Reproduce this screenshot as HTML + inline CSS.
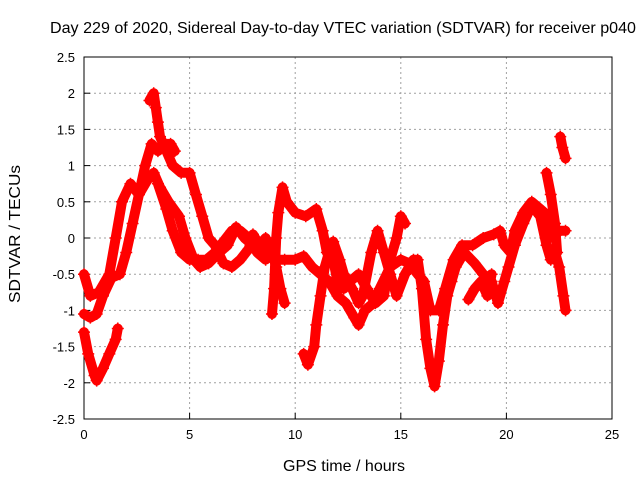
<!DOCTYPE html>
<html><head><meta charset="utf-8"><style>
body{margin:0;background:#fff;}
svg{display:block;font-family:"Liberation Sans",sans-serif;}
</style></head><body>
<svg id="chart" width="640" height="480">
<text x="343" y="33" font-size="16" text-anchor="middle" textLength="586" lengthAdjust="spacingAndGlyphs">Day 229 of 2020, Sidereal Day-to-day VTEC variation (SDTVAR) for receiver p040</text>
<text x="344" y="471" font-size="16" text-anchor="middle" textLength="122" lengthAdjust="spacingAndGlyphs">GPS time / hours</text>
<text transform="translate(20,234) rotate(-90)" font-size="16" text-anchor="middle" textLength="138" lengthAdjust="spacingAndGlyphs">SDTVAR / TECUs</text>
<g id="grid"></g><g id="axes"></g><g id="marks"></g>
</svg>
<script>
const xTicks=[0,5,10,15,20,25];
const yTicks=[-2.5,-2,-1.5,-1,-0.5,0,0.5,1,1.5,2,2.5];
const trackA=[[0,-1.3],[0.2,-1.6],[0.5,-1.9],[0.6,-1.97],[0.9,-1.8],[1.2,-1.6],[1.5,-1.4],[1.6,-1.25]];
const trackB=[[0,-1.05],[0.3,-1.1],[0.6,-1.05],[0.9,-0.8],[1.3,-0.55],[1.7,-0.5],[2.0,-0.2],[2.3,0.2],[2.6,0.6],[2.9,1.0],[3.2,1.3],[3.5,1.2],[3.8,1.3],[4.1,1.3],[4.3,1.2]];
const trackC=[[0,-0.5],[0.3,-0.8],[0.7,-0.75],[1.2,-0.5],[1.5,0.0],[1.8,0.5],[2.2,0.75],[2.6,0.6],[3.0,0.8],[3.3,0.9],[3.6,0.7],[4.0,0.5],[4.5,0.3],[4.8,0.0],[5.2,-0.3],[5.5,-0.4],[5.9,-0.35],[6.4,-0.2],[6.8,-0.1],[7.2,0.15],[7.6,0.0],[8.0,-0.1],[8.5,-0.2],[9.0,-0.3],[9.5,-0.3],[10.0,-0.3],[10.4,-0.25],[10.8,-0.4],[11.2,-0.5],[11.6,-0.6],[12.0,-0.8],[12.4,-0.9],[12.8,-1.1],[13.0,-1.2],[13.3,-1.0],[13.7,-0.9],[14.0,-0.7],[14.5,-0.4],[15.0,-0.3],[15.4,-0.35],[15.8,-0.5],[16.1,-0.6],[16.4,-1.0],[16.8,-1.0],[17.1,-0.7],[17.5,-0.3],[17.9,-0.1],[18.4,-0.1],[18.9,0.0],[19.4,0.05],[19.7,0.1],[19.9,-0.1],[20.2,-0.2],[20.4,0.1],[20.8,0.35],[21.2,0.5],[21.6,0.4],[22.0,0.3],[22.2,0.0],[22.5,0.1],[22.8,0.1]];
const trackD=[[3.1,1.9],[3.3,2.0],[3.4,1.8],[3.5,1.6],[3.6,1.4],[3.9,1.2],[4.2,1.0],[4.6,0.9],[5.0,0.9],[5.3,0.6],[5.6,0.3],[5.9,0.0],[6.2,-0.1],[6.6,-0.35],[7.0,-0.4],[7.4,-0.3],[7.8,-0.15],[8.0,0.05],[8.3,-0.1],[8.6,0.0],[8.9,-0.2],[9.1,-0.4],[9.3,-0.7],[9.5,-0.9]];
const trackE=[[3.5,0.75],[3.9,0.4],[4.2,0.1],[4.6,-0.2],[5.0,-0.3],[5.4,-0.3],[5.8,-0.3],[6.2,-0.2],[6.6,-0.05],[7.0,0.1],[7.4,0.1],[7.8,0.0],[8.2,-0.2],[8.6,-0.3]];
const trackF=[[8.9,-1.05],[9.0,-0.7],[9.1,0.0],[9.2,0.35],[9.4,0.7],[9.6,0.5],[10.0,0.35],[10.5,0.3],[11.0,0.4],[11.3,0.1],[11.5,-0.2],[11.8,-0.3],[12.0,-0.6],[12.3,-0.7],[12.6,-0.6],[13.0,-0.5],[13.4,-0.7],[13.8,-0.9],[14.2,-0.8],[14.5,-0.3],[14.8,0.0],[15.0,0.3],[15.2,0.2]];
const trackG=[[10.4,-1.6],[10.6,-1.75],[10.9,-1.5],[11.0,-1.2],[11.2,-0.8],[11.4,-0.4],[11.6,-0.2],[11.8,-0.05],[12.1,-0.3],[12.3,-0.5],[12.7,-0.7],[13.0,-0.9],[13.2,-0.8],[13.6,-0.2],[13.9,0.1],[14.2,-0.2],[14.5,-0.5],[14.8,-0.8],[15.2,-0.5],[15.6,-0.3],[15.8,-0.3],[16.0,-0.7],[16.2,-1.4],[16.4,-1.8],[16.6,-2.05],[16.8,-1.7],[17.0,-1.2],[17.2,-0.8],[17.4,-0.6],[17.6,-0.4],[18.0,-0.2],[18.5,-0.35],[18.9,-0.5],[19.3,-0.6],[19.6,-0.9],[19.9,-0.6],[20.1,-0.4],[20.4,-0.1],[20.8,0.2],[21.2,0.45],[21.6,0.3],[21.9,-0.1],[22.1,-0.3],[22.3,-0.2],[22.5,-0.4],[22.7,-0.8],[22.8,-1.0]];
const trackH=[[21.9,0.9],[22.1,0.6],[22.3,0.2],[22.4,-0.2]];
const trackI=[[22.55,1.4],[22.65,1.25],[22.8,1.1]];
const trackJ=[[18.2,-0.85],[18.5,-0.7],[18.8,-0.6],[19.1,-0.8],[19.3,-0.5]];
const tracks=[trackA,trackB,trackC,trackD,trackE,trackF,trackG,trackH,trackI,trackJ];
const NS='http://www.w3.org/2000/svg';
const X0=84,X1=612,Y0=419,Y1=57;
const sx=v=>X0+(v-0)/(25-0)*(X1-X0);
const sy=v=>Y0-(v+2.5)/5*(Y0-Y1);
function mk(t,a){const e=document.createElementNS(NS,t);for(const k in a)e.setAttribute(k,a[k]);return e;}
const grid=document.getElementById('grid'),axes=document.getElementById('axes'),marks=document.getElementById('marks');
xTicks.forEach(t=>{
 if(t>0&&t<25){const l=mk('line',{x1:sx(t),x2:sx(t),y1:Y1,y2:Y0,stroke:'#a0a0a0','stroke-dasharray':'2,3'});
 
 grid.appendChild(l);}
 const tk=mk('line',{x1:sx(t),x2:sx(t),y1:Y0,y2:Y0-6,stroke:'#000'});axes.appendChild(tk);
 const tx=mk('text',{x:sx(t),y:Y0+20,'font-size':13,'text-anchor':'middle'});tx.textContent=t;
 
 axes.appendChild(tx);
});
yTicks.forEach(t=>{
 if(t>-2.5&&t<2.5){const l=mk('line',{x1:X0,x2:X1,y1:sy(t),y2:sy(t),stroke:'#a0a0a0','stroke-dasharray':'2,3'});
 
 grid.appendChild(l);}
 const tk=mk('line',{x1:X0,x2:X0+6,y1:sy(t),y2:sy(t),stroke:'#000'});axes.appendChild(tk);
 const tx=mk('text',{x:X0-9,y:sy(t)+5,'font-size':13,'text-anchor':'end'});tx.textContent=t;
 
 axes.appendChild(tx);
});
const frame=mk('rect',{x:X0,y:Y1,width:X1-X0,height:Y0-Y1,fill:'none',stroke:'#000'});

axes.appendChild(frame);
tracks.forEach(tr=>{
 const pts=tr.map(p=>sx(p[0]).toFixed(1)+','+sy(p[1]).toFixed(1)).join(' ');
 const pl=mk('polyline',{points:pts,fill:'none',stroke:'#ff0000','stroke-width':10,'stroke-linejoin':'round','stroke-linecap':'round'});
 
 marks.appendChild(pl);
 let d='';tr.forEach(p=>{const x=sx(p[0]),y=sy(p[1]);d+=`M${x-6},${y}h12M${x},${y-6}v12`;});
 const pm=mk('path',{d:d,stroke:'#ff0000','stroke-width':1.5,fill:'none'});
 
 marks.appendChild(pm);
});
</script>
</body></html>
